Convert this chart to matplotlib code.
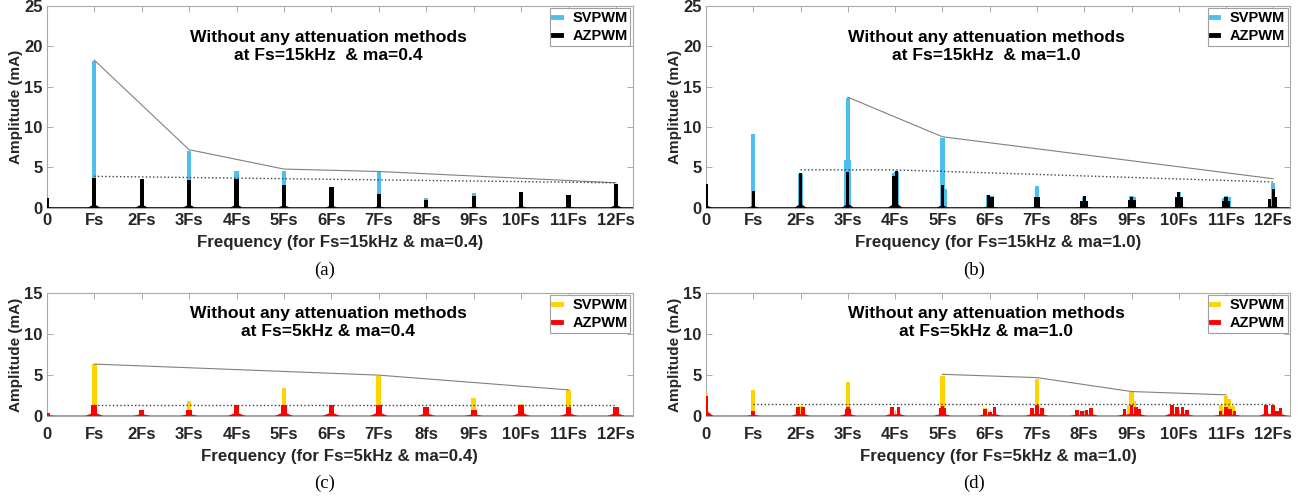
import numpy as np
import matplotlib
matplotlib.use("Agg")
import matplotlib.pyplot as plt
from matplotlib.lines import Line2D

plt.rcParams['font.family'] = ['Liberation Sans', 'DejaVu Sans']
plt.rcParams['font.weight'] = 'bold'

# ---------------- data (frequency in multiples of Fs, amplitude in mA) ----------------
harm = list(range(13))
xlabels_top = ['0', 'Fs', '2Fs', '3Fs', '4Fs', '5Fs', '6Fs', '7Fs', '8Fs', '9Fs', '10Fs', '11Fs', '12Fs']
xlabels_c = ['0', 'Fs', '2Fs', '3Fs', '4Fs', '5Fs', '6Fs', '7Fs', '8fs', '9Fs', '10Fs', '11Fs', '12Fs']

# (a) Fs=15kHz, ma=0.4
a_sv = [1.2, 18.2, 3.5, 7.0, 4.6, 4.6, 2.6, 4.4, 1.2, 1.8, 1.9, 1.6, 3.0]
a_az = [1.2, 3.7, 3.6, 3.4, 3.6, 2.8, 2.6, 1.7, 1.0, 1.5, 1.9, 1.6, 2.9]
a_env_x = [1, 3, 5, 7, 12]
a_env_y = [18.3, 7.2, 4.8, 4.5, 3.1]
a_dot_x = [1, 12]
a_dot_y = [3.9, 3.1]

# (b) Fs=15kHz, ma=1.0
b_sv_f = [0.0, 1.0, 2.0, 2.97, 3.0, 3.03, 3.97, 4.03, 5.0, 5.05, 5.97, 6.05, 7.0,
          8.0, 9.0, 9.05, 10.0, 10.95, 11.0, 11.05, 12.0]
b_sv_a = [3.0, 9.2, 4.2, 5.9, 13.6, 5.9, 4.3, 4.4, 8.7, 2.3, 1.6, 1.5, 2.7,
          1.4, 1.5, 1.3, 2.0, 1.2, 1.5, 1.3, 3.1]
b_az_f = [0.0, 1.0, 2.0, 3.0, 3.97, 4.03, 5.0, 5.97, 6.05, 6.97, 7.03, 7.95, 8.0, 8.05,
          8.95, 9.0, 9.05, 9.95, 10.0, 10.05, 10.95, 11.0, 11.05, 11.92, 12.0, 12.05]
b_az_a = [3.0, 2.1, 4.3, 4.4, 4.0, 4.5, 2.8, 1.6, 1.4, 1.3, 1.3, 0.9, 1.5, 0.9,
          1.0, 1.4, 1.0, 1.3, 1.9, 1.3, 0.8, 1.4, 0.9, 1.1, 2.3, 1.3]
b_env_x = [3, 5, 12]
b_env_y = [13.7, 8.8, 3.6]
b_dot_x = [2, 4, 12]
b_dot_y = [4.7, 4.7, 3.2]

# (c) Fs=5kHz, ma=0.4
c_sv = [0.4, 6.3, 0.8, 1.8, 1.3, 3.4, 1.3, 4.9, 1.1, 2.2, 1.5, 3.2, 1.1]
c_az = [0.4, 1.3, 0.8, 0.8, 1.3, 1.4, 1.3, 1.4, 1.1, 0.8, 1.3, 1.1, 1.1]
c_env_x = [1, 7, 11]
c_env_y = [6.35, 5.0, 3.2]
c_dot_x = [1, 12]
c_dot_y = [1.3, 1.3]

# (d) Fs=5kHz, ma=1.0
d_sv_f = [0.0, 1.0, 2.0, 3.0, 5.0, 5.9, 7.0, 8.95, 9.0, 9.04, 10.9, 11.0, 11.05, 11.15]
d_sv_a = [2.8, 3.2, 1.2, 4.2, 4.9, 1.0, 4.5, 1.4, 2.9, 1.9, 1.3, 2.5, 2.1, 1.2]
d_az_f = [0.0, 1.0, 1.95, 2.05, 2.97, 3.0, 3.03, 3.93, 4.07, 4.97, 5.0, 5.03, 5.9, 6.0, 6.1,
          6.9, 7.0, 7.1, 7.85, 7.95, 8.05, 8.15, 8.85, 9.0, 9.1, 9.17,
          9.85, 9.97, 10.08, 10.17, 10.88, 11.0, 11.08, 11.18, 11.85, 12.0, 12.08, 12.15]
d_az_a = [2.4, 0.6, 1.1, 1.1, 0.9, 1.1, 0.9, 1.1, 1.1, 1.0, 1.2, 1.0, 0.9, 0.5, 1.1,
          1.0, 1.3, 1.0, 0.8, 0.6, 0.7, 1.0, 0.9, 1.3, 1.1, 0.9,
          1.3, 1.1, 1.1, 0.8, 0.6, 1.1, 0.9, 0.6, 1.3, 1.4, 0.6, 1.0]
d_env_x = [5, 7, 9, 11]
d_env_y = [5.1, 4.7, 3.0, 2.6]
d_dot_x = [1, 12]
d_dot_y = [1.5, 1.5]

BLUE = '#4DBEEE'
YELLOW = '#FFD200'
RED = '#FF0000'
TXT = '#262626'


def peaks(ax, f, a, color, width, skirt_w, skirt_frac):
    # spectral lines drawn as narrow bars with a small flared base
    ax.bar(f, a, width=width, color=color, linewidth=0, zorder=3)
    if skirt_w > 0:
        for fi, ai in zip(f, a):
            ax.fill([fi - skirt_w, fi, fi + skirt_w], [0, ai * skirt_frac, 0],
                    color=color, linewidth=0, zorder=3)


def style(ax, ymax, yticks, xlabels, xlabel, title, c1, c2, xpad, lpad):
    ax.set_xlim(0, 12.35)
    ax.set_ylim(0, ymax)
    ax.set_xticks(harm)
    ax.set_xticklabels(xlabels)
    ax.set_yticks(yticks)
    ax.tick_params(direction='in', top=True, right=True, length=4, width=0.6,
                   color='#a0a0a0', labelsize=12, labelcolor=TXT, pad=3)
    ax.tick_params(axis='x', pad=xpad)
    for s in ax.spines.values():
        s.set_color('#a8a8a8')
        s.set_linewidth(0.8)
    ax.set_xlabel(xlabel, fontsize=12.2, fontweight='bold', color=TXT, labelpad=lpad)
    ax.set_ylabel('Amplitude (mA)', fontsize=11, fontweight='bold', color=TXT, labelpad=1)
    ax.text(0.48, title[1], title[0], transform=ax.transAxes, ha='center', va='center',
            fontsize=12.6, fontweight='bold', color='black', linespacing=1.25)
    handles = [Line2D([], [], color=c1, lw=3.5), Line2D([], [], color=c2, lw=3.5)]
    leg = ax.legend(handles, ['SVPWM', 'AZPWM'], loc='upper right', fontsize=10.5,
                    handlelength=0.5, handletextpad=0.8, borderaxespad=0.15,
                    borderpad=0.2, labelspacing=0.25, fancybox=False, framealpha=1)
    leg.get_frame().set_edgecolor('#a0a0a0')
    leg.get_frame().set_linewidth(0.8)
    for t in leg.get_texts():
        t.set_fontweight('bold')


fig = plt.figure(figsize=(12.99, 4.96), dpi=100)
ax_a = fig.add_axes([0.036, 0.581, 0.451, 0.407])
ax_b = fig.add_axes([0.5435, 0.581, 0.4495, 0.407])
ax_c = fig.add_axes([0.036, 0.161, 0.451, 0.248])
ax_d = fig.add_axes([0.5435, 0.161, 0.4495, 0.248])

# (a)
peaks(ax_a, harm, a_sv, BLUE, 0.09, 0, 0)
peaks(ax_a, harm, a_az, 'black', 0.09, 0.14, 0.12)
ax_a.plot(a_env_x, a_env_y, color='#808080', lw=0.8, zorder=4)
ax_a.plot(a_dot_x, a_dot_y, color='#404040', lw=1.0, ls=':', zorder=4)
ax_a.axhline(0, color='black', lw=1.2, zorder=2)
style(ax_a, 25, [0, 5, 10, 15, 20, 25], xlabels_top,
      'Frequency (for Fs=15kHz & ma=0.4)',
      ('Without any attenuation methods\nat Fs=15kHz  & ma=0.4', 0.80), BLUE, 'black', 4, 5)

# (b)
peaks(ax_b, b_sv_f, b_sv_a, BLUE, 0.09, 0, 0)
peaks(ax_b, b_az_f, b_az_a, 'black', 0.07, 0.13, 0.12)
ax_b.plot(b_env_x, b_env_y, color='#808080', lw=0.8, zorder=4)
ax_b.plot(b_dot_x, b_dot_y, color='#404040', lw=1.0, ls=':', zorder=4)
ax_b.axhline(0, color='black', lw=1.2, zorder=2)
style(ax_b, 25, [0, 5, 10, 15, 20, 25], xlabels_top,
      'Frequency (for Fs=15kHz & ma=1.0)',
      ('Without any attenuation methods\nat Fs=15kHz  & ma=1.0', 0.80), BLUE, 'black', 4, 5)

# (c)
peaks(ax_c, harm, c_sv, YELLOW, 0.1, 0, 0)
peaks(ax_c, harm, c_az, RED, 0.12, 0.2, 0.35)
ax_c.plot(c_env_x, c_env_y, color='#808080', lw=0.8, zorder=4)
ax_c.plot(c_dot_x, c_dot_y, color='#404040', lw=1.0, ls=':', zorder=4)
ax_c.axhline(0, color='#ff6060', lw=1.2, zorder=2)
style(ax_c, 15, [0, 5, 10, 15], xlabels_c,
      'Frequency (for Fs=5kHz & ma=0.4)',
      ('Without any attenuation methods\nat Fs=5kHz & ma=0.4', 0.76), YELLOW, RED, 8, 5)

# (d)
peaks(ax_d, d_sv_f, d_sv_a, YELLOW, 0.09, 0, 0)
peaks(ax_d, d_az_f, d_az_a, RED, 0.08, 0.16, 0.3)
ax_d.plot(d_env_x, d_env_y, color='#808080', lw=0.8, zorder=4)
ax_d.plot(d_dot_x, d_dot_y, color='#404040', lw=1.0, ls=':', zorder=4)
ax_d.axhline(0, color='#ff6060', lw=1.2, zorder=2)
style(ax_d, 15, [0, 5, 10, 15], xlabels_top,
      'Frequency (for Fs=5kHz & ma=1.0)',
      ('Without any attenuation methods\nat Fs=5kHz & ma=1.0', 0.76), YELLOW, RED, 8, 5)

# sub-figure captions
for x, y, s in [(0.25, 0.455, '(a)'), (0.75, 0.455, '(b)'), (0.25, 0.026, '(c)'), (0.75, 0.026, '(d)')]:
    fig.text(x, y, s, ha='center', va='center', fontsize=13.5,
             family=['Liberation Serif', 'DejaVu Serif'], fontweight='normal')

fig.savefig('out.png', dpi=100)
